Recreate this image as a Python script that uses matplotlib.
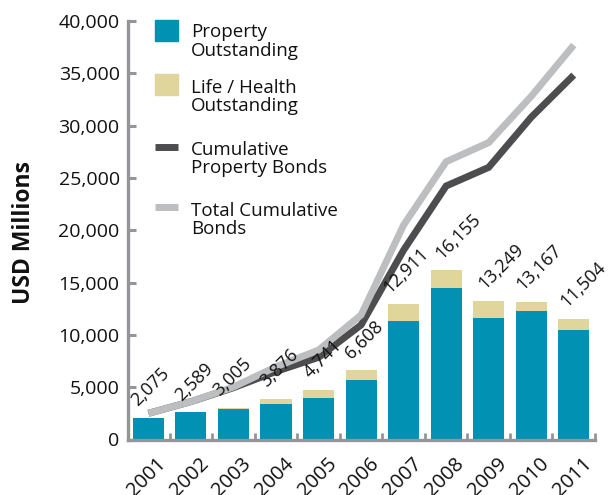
#!/usr/bin/env python3
"""Catastrophe bonds: outstanding by year (stacked bars) plus cumulative issuance lines."""
import matplotlib
matplotlib.use("Agg")
import matplotlib.pyplot as plt
import numpy as np
from matplotlib.lines import Line2D
from matplotlib.patches import Rectangle
from matplotlib.ticker import FuncFormatter, FixedLocator
from matplotlib.transforms import ScaledTranslation

years = ["2001", "2002", "2003", "2004", "2005", "2006", "2007", "2008", "2009", "2010", "2011"]
totals = [2075, 2589, 3005, 3876, 4741, 6608, 12911, 16155, 13249, 13167, 11504]
property_out = [2075, 2589, 2960, 3420, 3930, 5670, 11310, 14450, 11650, 12300, 10460]
cum_property = [2500, 3620, 4950, 6500, 7850, 10950, 18100, 24230, 26010, 30800, 34830]
cum_total = [2500, 3620, 5020, 6950, 8550, 11900, 20500, 26550, 28380, 32800, 37700]

# hand nudges for the value labels (pixels left of the bar centre)
label_dx = [-10.5, -9.3, -13.5, -9.3, -8.5, -9.3, -13.5, -4, -3.5, -8, -7]

TEAL = "#0091b3"
BEIGE = "#e0d69c"
DARK = "#4d4d4f"
LIGHT = "#bcbec0"
AXIS = "#939598"
INK = "#111111"

plt.rcParams["font.family"] = ["Open Sans", "DejaVu Sans"]

W, H = 609, 495
fig = plt.figure(figsize=(W / 100, H / 100), dpi=100)


def px(x, y):
    # pixel position (from top-left) -> figure fraction
    return x / W, 1 - y / H


left, top = px(128, 21)
right, bottom = px(595, 439.5)
ax = fig.add_axes([left, bottom, right - left, top - bottom])

x = np.arange(len(years))
life_out = np.array(totals) - np.array(property_out)

ax.bar(x, property_out, width=0.73, color=TEAL, zorder=2)
ax.bar(x, life_out, bottom=property_out, width=0.73, color=BEIGE, zorder=2)

ax.plot(x, cum_property, color=DARK, lw=5, solid_joinstyle="miter", solid_capstyle="butt", zorder=3)
ax.plot(x, cum_total, color=LIGHT, lw=5, solid_joinstyle="miter", solid_capstyle="butt", zorder=4)

for xi, tot, dx in zip(x, totals, label_dx):
    ax.annotate(f"{tot:,}", (xi, tot), xytext=(dx * 0.72, 8), textcoords="offset points",
                rotation=45, rotation_mode="anchor", ha="left", va="baseline",
                fontsize=13, color=INK, zorder=5)

ax.set_xlim(-0.48, 10.5)
ax.set_ylim(0, 40000)

for side in ("top", "right"):
    ax.spines[side].set_visible(False)
for side in ("left", "bottom"):
    ax.spines[side].set_color(AXIS)
    ax.spines[side].set_linewidth(2.4)

ax.set_yticks(range(0, 40001, 5000))
ax.yaxis.set_major_formatter(FuncFormatter(lambda v, p: f"{int(v):,}"))
ax.tick_params(axis="y", direction="in", length=5.5, width=2.2, color=AXIS,
               labelsize=14, pad=6, labelcolor=INK)

ax.set_xticks(x)
ax.set_xticklabels(years)
ax.xaxis.set_minor_locator(FixedLocator(np.arange(0.5, 11, 1.0)))
ax.tick_params(axis="x", which="major", length=0, labelsize=14.5, pad=10, labelcolor=INK)
ax.tick_params(axis="x", which="minor", direction="in", length=5, width=2, color=AXIS)
shift = ScaledTranslation(8 / 100, 0, fig.dpi_scale_trans)
for lab in ax.get_xticklabels():
    lab.set_rotation(45)
    lab.set_rotation_mode("anchor")
    lab.set_ha("right")
    lab.set_va("top")
    lab.set_transform(lab.get_transform() + shift)

fig.text(*px(24.5, 232), "USD Millions", rotation=90, ha="center", va="center",
         fontsize=16.5, fontweight="bold", color=INK)


# legend, drawn by hand
def legend_box(y0, y1, color):
    x0, yb = px(155, y1)
    x1, yt = px(178, y0)
    fig.add_artist(Rectangle((x0, yb), x1 - x0, yt - yb, color=color, transform=fig.transFigure))


def legend_line(yc, color):
    x0, y = px(155, yc)
    x1, _ = px(178, yc)
    fig.add_artist(Line2D([x0, x1], [y, y], color=color, lw=5, solid_capstyle="butt",
                          transform=fig.transFigure))


legend_box(20, 41, TEAL)
legend_box(74, 95, BEIGE)
legend_line(146.5, DARK)
legend_line(207.5, LIGHT)

entries = [("Property\nOutstanding", 41.5), ("Life / Health\nOutstanding", 97),
           ("Cumulative\nProperty Bonds", 159), ("Total Cumulative\nBonds", 220)]
for text, yc in entries:
    fig.text(*px(191, yc), text, ha="left", va="center", fontsize=13.5,
             linespacing=1.05, color=INK)

fig.savefig("out.png", dpi=100)
